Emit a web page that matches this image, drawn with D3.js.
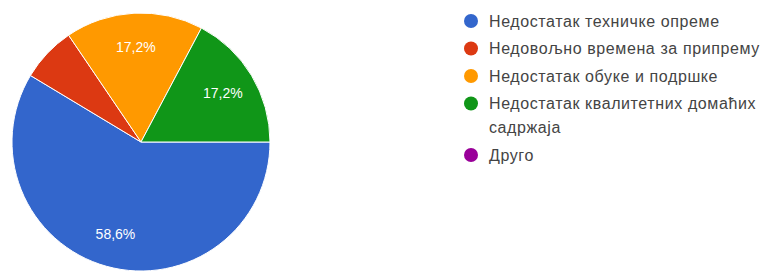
<!DOCTYPE html>
<html><head><meta charset="utf-8">
<script src="https://cdn.jsdelivr.net/npm/d3@7"></script>
<style>
html,body{margin:0;padding:0;background:#fff;}
svg{display:block;}
</style></head>
<body>
<svg id="chart" width="766" height="271"></svg>
<script>
const categories = [
  "Недостатак техничке опреме",
  "Недовољно времена за припрему",
  "Недостатак обуке и подршке",
  "Недостатак квалитетних домаћих садржаја",
  "Друго"
];
const counts = [17, 2, 5, 5, 0];
const colors = ["#3366cc", "#dc3912", "#ff9900", "#109618", "#990099"];

const svg = d3.select("#chart");
const cx = 141, cy = 142, R = 129;
const total = d3.sum(counts);

const pie = d3.pie().sort(null).value(d => d)
  .startAngle(Math.PI / 2).endAngle(Math.PI / 2 + 2 * Math.PI);
const arcs = pie(counts);
const arc = d3.arc().innerRadius(0).outerRadius(R);

const g = svg.append("g").attr("transform", `translate(${cx},${cy})`);
g.selectAll("path").data(arcs.filter(a => a.value > 0)).join("path")
  .attr("d", arc)
  .attr("fill", d => colors[d.index])
  .attr("stroke", "#fff").attr("stroke-width", 1);

const fmt = v => (Math.round(v / total * 1000) / 10).toFixed(1).replace(".", ",") + "%";
const labelArc = d3.arc().innerRadius(R * 0.74).outerRadius(R * 0.74);
g.selectAll("text.pl").data(arcs.filter(a => a.value / total > 0.1)).join("text")
  .attr("class", "pl")
  .attr("transform", d => `translate(${labelArc.centroid(d)})`)
  .attr("text-anchor", "middle").attr("dy", "0.35em")
  .attr("font-family", "'Liberation Sans', Arial, sans-serif")
  .attr("font-size", 14).attr("fill", "#fff")
  .text(d => fmt(d.value));

// legend
const lx = 471, ly = 21, itemGap = 27.5, lineH = 24, maxW = 275, tx = lx + 18;
const leg = svg.append("g");
let y = ly;
categories.forEach((c, i) => {
  leg.append("circle").attr("cx", lx).attr("cy", y).attr("r", 7).attr("fill", colors[i]);
  const t = leg.append("text").attr("x", tx).attr("y", y).attr("dy", "0.35em")
    .attr("font-family", "'Liberation Sans', Arial, sans-serif")
    .attr("font-size", 16).attr("letter-spacing", 0.6).attr("fill", "#444");
  const words = c.split(" ");
  let line = [], lines = 0;
  let ts = t.append("tspan").attr("x", tx);
  words.forEach(w => {
    line.push(w);
    ts.text(line.join(" "));
    if (ts.node().getComputedTextLength() > maxW && line.length > 1) {
      line.pop(); ts.text(line.join(" "));
      line = [w]; lines++;
      ts = t.append("tspan").attr("x", tx).attr("dy", lineH).text(w);
    }
  });
  y += itemGap + lines * lineH;
});
</script>
</body></html>
